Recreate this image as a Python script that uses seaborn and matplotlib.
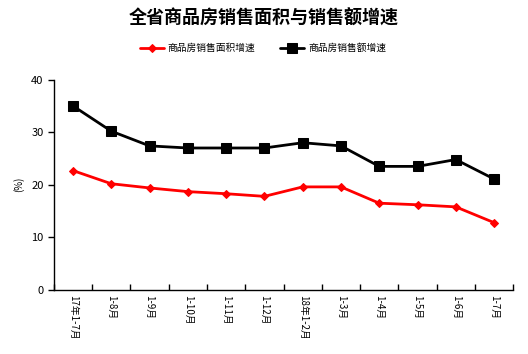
import pandas as pd
import matplotlib.pyplot as plt
import seaborn as sns
import numpy as np

# 数据
months = ['17年1-7月', '1-8月', '1-9月', '1-10月', '1-11月', '1-12月',
          '18年1-2月', '1-3月', '1-4月', '1-5月', '1-6月', '1-7月']
area_growth = [22.7, 20.2, 19.4, 18.7, 18.3, 17.8, 19.6, 19.6, 16.5, 16.2, 15.8, 12.8]
sales_growth = [35.0, 30.2, 27.4, 27.0, 27.0, 27.0, 28.0, 27.4, 23.5, 23.5, 24.8, 21.1]
y_ticks = [0, 10, 20, 30, 40]

sns.set_style("white", rc={'text.color': 'black', 'axes.labelcolor': 'black',
                           'xtick.color': 'black', 'ytick.color': 'black'})
plt.rcParams['font.family'] = ['Noto Sans CJK SC', 'DejaVu Sans']

df = pd.DataFrame({'月份': months, '面积': area_growth, '金额': sales_growth})
xpos = np.arange(len(months))

fig = plt.figure(figsize=(5.28, 3.54), dpi=100)
ax = fig.add_axes([0.102, 0.181, 0.870, 0.594])

sns.lineplot(x=xpos, y=df['面积'], ax=ax, color='#ff0000', linewidth=2,
             marker='D', markersize=4.5, markeredgecolor='#ff0000',
             label='商品房销售面积增速')
sns.lineplot(x=xpos, y=df['金额'], ax=ax, color='black', linewidth=2,
             marker='s', markersize=6.5, markeredgecolor='black',
             label='商品房销售额增速')

ax.set_xlim(-0.5, len(months) - 0.5)
ax.set_ylim(0, 40)
ax.set_yticks(y_ticks)
ax.set_yticklabels([str(v) for v in y_ticks], fontsize=8)
ax.set_xticks(xpos)
ax.set_xticklabels(months, rotation=270, fontsize=7, va='top')
ax.tick_params(axis='x', length=0, pad=4)
ax.set_xticks(np.arange(-0.5, len(months)), minor=True)
ax.tick_params(axis='x', which='minor', length=4, width=1, direction='in',
               color='black', bottom=True)
ax.tick_params(axis='y', length=4, width=1, direction='out', color='black', left=True)

for s in ['top', 'right']:
    ax.spines[s].set_visible(False)
for s in ['left', 'bottom']:
    ax.spines[s].set_color('black')
    ax.spines[s].set_linewidth(1)

ax.set_xlabel('')
ax.set_ylabel('(%)', fontsize=7, labelpad=5)

leg = ax.legend(loc='center', bbox_to_anchor=(0.455, 1.15), ncol=2,
                frameon=False, fontsize=7, handlelength=2.5, columnspacing=2.5,
                handletextpad=0.4)

fig.suptitle('全省商品房销售面积与销售额增速', fontsize=13, fontweight='bold', y=0.975)

fig.savefig('out.png', dpi=100)
